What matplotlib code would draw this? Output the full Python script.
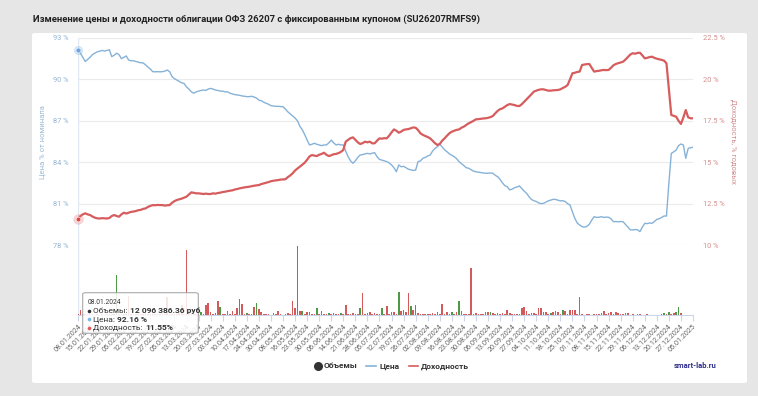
"""
plot.py

Redraws the smart-lab chart of OFZ 26207 price / yield with daily volumes.
"""

import matplotlib
matplotlib.use("Agg")
import matplotlib.pyplot as plt
from matplotlib.patches import FancyBboxPatch
from matplotlib.lines import Line2D

plt.rcParams["font.family"] = ["Roboto", "DejaVu Sans"]

# ─── Data ──────────────────────────────────────────────────────────────────────
TITLE = "Изменение цены и доходности облигации ОФЗ 26207 с фиксированным купоном (SU26207RMFS9)"

tick_labels = [
    "08.01.2024", "15.01.2024", "22.01.2024", "29.01.2024", "05.02.2024", "12.02.2024",
    "19.02.2024", "27.02.2024", "05.03.2024", "13.03.2024", "20.03.2024", "27.03.2024",
    "03.04.2024", "10.04.2024", "17.04.2024", "24.04.2024", "30.04.2024", "08.05.2024",
    "16.05.2024", "23.05.2024", "30.05.2024", "06.06.2024", "14.06.2024", "21.06.2024",
    "28.06.2024", "05.07.2024", "12.07.2024", "19.07.2024", "26.07.2024", "02.08.2024",
    "09.08.2024", "16.08.2024", "23.08.2024", "30.08.2024", "06.09.2024", "13.09.2024",
    "20.09.2024", "27.09.2024", "04.10.2024", "11.10.2024", "18.10.2024", "25.10.2024",
    "01.11.2024", "08.11.2024", "15.11.2024", "22.11.2024", "29.11.2024", "06.12.2024",
    "13.12.2024", "20.12.2024", "27.12.2024", "05.01.2025",
]

# price, % of nominal, one value per trading day
price = [
    92.16, 91.90, 91.60, 91.30, 91.45, 91.60, 91.80, 91.90, 92.00, 92.05,
    92.10, 92.05, 92.10, 92.15, 91.65, 91.75, 91.90, 91.80, 91.50, 91.60,
    91.70, 91.40, 91.35, 91.35, 91.30, 91.25, 91.20, 91.20, 91.05, 90.90,
    90.75, 90.56, 90.55, 90.56, 90.55, 90.56, 90.60, 90.68, 90.56, 90.20,
    90.05, 89.95, 89.85, 89.75, 89.70, 89.45, 89.30, 89.10, 89.00, 89.10,
    89.15, 89.20, 89.23, 89.20, 89.30, 89.35, 89.30, 89.23, 89.20, 89.15,
    89.15, 89.10, 89.10, 89.00, 88.95, 88.90, 88.87, 88.85, 88.80, 88.78,
    88.75, 88.75, 88.78, 88.72, 88.65, 88.50, 88.45, 88.35, 88.27, 88.20,
    88.10, 88.07, 88.05, 88.05, 88.03, 88.02, 87.85, 87.65, 87.50, 87.35,
    87.20, 87.00, 86.60, 86.35, 86.00, 85.60, 85.25, 85.30, 85.37, 85.30,
    85.25, 85.20, 85.25, 85.25, 85.40, 85.60, 85.40, 85.25, 85.30, 85.25,
    85.25, 84.80, 84.40, 84.10, 83.92, 84.10, 84.35, 84.52, 84.55, 84.60,
    84.64, 84.60, 84.65, 84.69, 84.40, 84.20, 84.15, 84.10, 84.04, 83.95,
    83.80, 83.60, 83.31, 83.80, 83.67, 83.70, 83.60, 83.49, 83.45, 83.40,
    83.43, 84.04, 84.10, 84.28, 84.35, 84.45, 84.52, 84.80, 85.00, 85.12,
    85.32, 85.10, 84.90, 84.76, 84.60, 84.50, 84.40, 84.25, 84.04, 83.90,
    83.75, 83.60, 83.56, 83.45, 83.35, 83.31, 83.28, 83.25, 83.22, 83.20,
    83.20, 83.22, 83.20, 83.05, 82.95, 82.75, 82.50, 82.30, 82.22, 81.99,
    82.05, 82.15, 82.20, 82.28, 82.10, 81.90, 81.75, 81.50, 81.30, 81.21,
    81.15, 81.05, 81.00, 81.02, 81.10, 81.20, 81.25, 81.31, 81.30, 81.25,
    81.20, 81.21, 81.15, 81.00, 80.90, 80.40, 79.93, 79.60, 79.45, 79.33,
    79.30, 79.35, 79.50, 79.80, 80.05, 80.00, 80.01, 80.05, 80.00, 80.02,
    80.01, 79.90, 79.69, 79.70, 79.68, 79.70, 79.69, 79.50, 79.30, 79.10,
    79.09, 79.12, 79.10, 78.97, 79.30, 79.57, 79.55, 79.60, 79.57, 79.70,
    79.86, 79.90, 80.00, 80.10, 80.10, 82.50, 84.64, 84.75, 84.88, 85.20,
    85.32, 85.25, 84.28, 85.00, 85.05, 85.08,
]

# yield, % per annum
yld = [
    11.55, 11.75, 11.85, 11.91, 11.85, 11.81, 11.72, 11.65, 11.61, 11.60,
    11.62, 11.61, 11.60, 11.63, 11.75, 11.81, 11.75, 11.71, 11.85, 11.95,
    11.90, 11.95, 12.00, 12.02, 12.05, 12.10, 12.12, 12.18, 12.21, 12.30,
    12.36, 12.41, 12.40, 12.42, 12.41, 12.41, 12.38, 12.40, 12.41, 12.55,
    12.65, 12.72, 12.76, 12.80, 12.86, 12.92, 13.05, 13.18, 13.15, 13.12,
    13.12, 13.10, 13.08, 13.10, 13.08, 13.08, 13.12, 13.10, 13.14, 13.16,
    13.20, 13.22, 13.25, 13.28, 13.30, 13.35, 13.38, 13.42, 13.45, 13.48,
    13.50, 13.52, 13.55, 13.58, 13.60, 13.62, 13.68, 13.72, 13.76, 13.80,
    13.85, 13.88, 13.90, 13.92, 13.95, 13.96, 13.97, 14.10, 14.20, 14.33,
    14.50, 14.62, 14.73, 14.85, 14.97, 15.15, 15.35, 15.43, 15.40, 15.37,
    15.45, 15.50, 15.57, 15.45, 15.37, 15.42, 15.48, 15.50, 15.55, 15.62,
    15.74, 16.24, 16.35, 16.45, 16.50, 16.35, 16.20, 16.10, 16.15, 16.24,
    16.20, 16.24, 16.14, 16.14, 16.30, 16.44, 16.42, 16.45, 16.44, 16.60,
    16.80, 16.98, 16.90, 16.78, 16.85, 16.95, 16.98, 17.00, 17.05, 17.10,
    17.08, 16.94, 16.74, 16.65, 16.58, 16.52, 16.44, 16.30, 16.15, 16.04,
    16.10, 16.30, 16.44, 16.60, 16.75, 16.84, 16.90, 16.95, 16.98, 17.08,
    17.15, 17.25, 17.35, 17.42, 17.50, 17.59, 17.60, 17.62, 17.64, 17.65,
    17.68, 17.72, 17.79, 17.95, 18.10, 18.20, 18.25, 18.35, 18.45, 18.51,
    18.48, 18.45, 18.40, 18.39, 18.50, 18.65, 18.80, 18.95, 19.10, 19.26,
    19.32, 19.37, 19.40, 19.40, 19.36, 19.32, 19.32, 19.34, 19.35, 19.36,
    19.40, 19.48, 19.55, 19.66, 20.00, 20.37, 20.40, 20.45, 20.47, 20.87,
    20.90, 20.92, 20.93, 20.70, 20.47, 20.50, 20.52, 20.55, 20.57, 20.56,
    20.57, 20.70, 20.85, 20.93, 20.98, 21.02, 21.07, 21.20, 21.35, 21.50,
    21.58, 21.55, 21.60, 21.61, 21.45, 21.27, 21.30, 21.35, 21.37, 21.30,
    21.25, 21.21, 21.18, 21.13, 20.97, 19.40, 17.85, 17.80, 17.75, 17.50,
    17.31, 17.70, 18.15, 17.71, 17.65, 17.65,
]

# daily turnover, mln rub
volumes = [
    12, 50, 8, 6, 10, 5, 8, 4, 6, 5,
    7, 5, 9, 6, 8, 6, 400, 10, 8, 6,
    12, 190, 10, 8, 14, 9, 12, 10, 16, 12,
    10, 14, 12, 9, 15, 10, 12, 180, 14, 10,
    8, 12, 20, 100, 15, 650, 30, 12, 10, 8,
    6, 30, 10, 100, 120, 30, 8, 20, 140, 80,
    6, 10, 40, 8, 40, 10, 70, 160, 110, 10,
    20, 6, 10, 80, 120, 60, 30, 8, 6, 10,
    5, 20, 8, 40, 6, 5, 8, 20, 10, 140,
    70, 690, 40, 40, 10, 30, 30, 8, 10, 70,
    10, 40, 8, 6, 20, 8, 20, 6, 10, 20,
    8, 100, 8, 6, 20, 6, 8, 70, 220, 10,
    20, 30, 6, 20, 6, 8, 70, 10, 90, 8,
    30, 30, 6, 230, 40, 50, 30, 220, 95, 50,
    100, 20, 8, 10, 6, 10, 8, 20, 8, 30,
    6, 110, 8, 30, 6, 30, 8, 30, 140, 40,
    8, 6, 10, 470, 8, 20, 6, 8, 6, 30,
    30, 30, 20, 6, 20, 8, 20, 6, 50, 20,
    6, 8, 6, 10, 70, 85, 40, 8, 20, 20,
    8, 70, 70, 30, 30, 8, 20, 30, 40, 30,
    8, 50, 40, 8, 50, 55, 50, 8, 185, 8,
    5, 6, 10, 5, 10, 6, 15, 20, 40, 6,
    20, 30, 8, 30, 20, 6, 8, 20, 20, 5,
    6, 4, 10, 10, 5, 4, 6, 4, 5, 4,
    4, 5, 6, 20, 8, 30, 6, 20, 30, 80,
    20, 0, 0, 0, 0, 0,
]

green_days = [16, 51, 57, 59, 67, 70, 74, 91, 93, 99, 104, 106, 109, 117, 126,
              133, 135, 138, 140, 149, 155, 158, 171, 196, 201, 243, 245, 248, 249]

price_ticks = [78, 81, 84, 87, 90, 93]
yield_ticks = [10, 12.5, 15, 17.5, 20, 22.5]
yield_tick_labels = ["10 %", "12.5 %", "15 %", "17.5 %", "20 %", "22.5 %"]

hover_date = "08.01.2024"
hover_vol = "12 096 386.36 руб"
hover_price = "92.16 %"
hover_yield = "11.55%"

# ─── Style ─────────────────────────────────────────────────────────────────────
W, H = 758, 396
BG = "#e6e6e6"
PRICE_C = "#86b2d8"
YIELD_C = "#d65c5e"
RED_BAR = "#d35a5a"
GREEN_BAR = "#4c9a45"
GRID_C = "#ebebeb"
AXIS_C = "#ccd6eb"


def box(x0, y0, x1, y1):
    # pixel box (top-left origin) -> figure fraction rect
    return [x0 / W, 1 - y1 / H, (x1 - x0) / W, (y1 - y0) / H]


def fx(x):
    return x / W


def fy(y):
    return 1 - y / H


fig = plt.figure(figsize=(W / 100, H / 100), dpi=100, facecolor=BG)

panel = FancyBboxPatch((fx(32), fy(383)), (747 - 32) / W, (383 - 33) / H,
                       boxstyle="round,pad=0,rounding_size=0.004",
                       transform=fig.transFigure, facecolor="white",
                       edgecolor="none", zorder=-1)
fig.add_artist(panel)

fig.text(fx(33), fy(19), TITLE, fontsize=6.8, fontweight="bold",
         color="#222222", ha="left", va="center")

n = len(price)
x = list(range(n))

# ─── Price / yield pane ────────────────────────────────────────────────────────
ax_p = fig.add_axes(box(78, 38, 693, 245))
ax_p.set_facecolor("none")
ax_p.set_xlim(0, n - 1)
ax_p.set_ylim(78, 93)
for s in ax_p.spines.values():
    s.set_visible(False)
ax_p.set_xticks([])
ax_p.set_yticks(price_ticks)
ax_p.set_yticklabels([f"{t} %" for t in price_ticks])
ax_p.tick_params(axis="y", length=0, pad=7, labelsize=5.3, labelcolor="#93b3d3")
ax_p.yaxis.grid(True, color=GRID_C, lw=0.8)
ax_p.set_axisbelow(True)
ax_p.axvline(0, color="#dfe8f3", lw=1.0, zorder=1)
ax_p.plot(x, price, color=PRICE_C, lw=1.0, zorder=3)

ax_y = ax_p.twinx()
ax_y.set_facecolor("none")
ax_y.set_ylim(10, 22.5)
for s in ax_y.spines.values():
    s.set_visible(False)
ax_y.set_yticks(yield_ticks)
ax_y.set_yticklabels(yield_tick_labels)
ax_y.tick_params(axis="y", length=0, pad=7, labelsize=5.3, labelcolor="#d48d8d")
ax_y.plot(x, yld, color=YIELD_C, lw=1.6, zorder=3)

# hover markers on the first point
ax_p.plot(0, price[0], "o", ms=6.5, color="#6ea7df", alpha=0.3, mec="none", clip_on=False, zorder=4)
ax_p.plot(0, price[0], "o", ms=3.6, color="#6ea7df", mec="white", mew=0.4, clip_on=False, zorder=5)
ax_y.plot(0, yld[0], "o", ms=7.5, color="#e57373", alpha=0.3, mec="none", clip_on=False, zorder=4)
ax_y.plot(0, yld[0], "o", ms=3.4, color="#e04848", mec="white", mew=0.4, clip_on=False, zorder=5)

fig.text(fx(43), fy(142), "Цена % от номинала", rotation=90, fontsize=5.5,
         color="#9cb9d6", ha="center", va="center")
fig.text(fx(733), fy(141), "Доходность, % годовых", rotation=270, fontsize=5.5,
         color="#d08c8c", ha="center", va="center")

# ─── Volume pane ───────────────────────────────────────────────────────────────
ax_v = fig.add_axes(box(78, 245, 693, 315))
ax_v.set_facecolor("none")
ax_v.set_xlim(0, n - 1)
ax_v.set_ylim(0, 700)
bar_colors = [GREEN_BAR if i in green_days else RED_BAR for i in x]
ax_v.bar(x, volumes, width=0.7, color=bar_colors, linewidth=0, zorder=2)
ax_v.axvline(0, color="#dfe8f3", lw=1.0, zorder=1)
for side in ("top", "right", "left"):
    ax_v.spines[side].set_visible(False)
ax_v.spines["bottom"].set_color(AXIS_C)
ax_v.spines["bottom"].set_linewidth(0.8)
ax_v.set_yticks([])
ax_v.set_xticks(list(range(0, n, 5)))
ax_v.set_xticklabels(tick_labels, rotation=45, ha="right", va="top",
                     rotation_mode="anchor")
ax_v.tick_params(axis="x", length=4, width=0.8, color=AXIS_C, pad=2,
                 labelsize=5.2, labelcolor="#666666")

# ─── Tooltip ───────────────────────────────────────────────────────────────────
tip = FancyBboxPatch((fx(82.7), fy(333.3)), (198.3 - 82.7) / W, (333.3 - 292.7) / H,
                     boxstyle="round,pad=0,rounding_size=0.004",
                     transform=fig.transFigure, facecolor="white", alpha=0.85,
                     edgecolor="#9a9a9a", lw=0.8, zorder=10)
fig.add_artist(tip)

fig.text(fx(87.3), fy(302.3), hover_date, fontsize=4.8, color="#333333",
         ha="left", va="center", zorder=11)

renderer = fig.canvas.get_renderer()
rows = [("#333333", "Объемы: ", hover_vol, 310.7),
        ("#7cb5ec", "Цена: ", hover_price, 319.3),
        ("#e05a5a", "Доходность: ", hover_yield, 327.7)]
for dot_c, name, val, yy in rows:
    fig.add_artist(Line2D([fx(89.3)], [fy(yy)], marker="o", ms=2.6, color=dot_c,
                          mec="none", transform=fig.transFigure, zorder=11))
    t = fig.text(fx(93.3), fy(yy), name, fontsize=6, color="#333333",
                 ha="left", va="center", zorder=11)
    x_end = t.get_window_extent(renderer).x1
    fig.text(x_end / W, fy(yy), val, fontsize=6, fontweight="bold",
             color="#333333", ha="left", va="center", zorder=11)

# ─── Legend & credit ───────────────────────────────────────────────────────────
ly = fy(366)
fig.add_artist(Line2D([fx(318)], [ly], marker="o", ms=5.5, color="#333333",
                      transform=fig.transFigure))
fig.text(fx(324), ly, "Объемы", fontsize=6, fontweight="bold", color="#333333",
         ha="left", va="center")
fig.add_artist(Line2D([fx(366), fx(376)], [ly, ly], color=PRICE_C, lw=1.2,
                      transform=fig.transFigure))
fig.text(fx(379), ly, "Цена", fontsize=6, fontweight="bold", color="#333333",
         ha="left", va="center")
fig.add_artist(Line2D([fx(409), fx(418)], [ly, ly], color=YIELD_C, lw=1.2,
                      transform=fig.transFigure))
fig.text(fx(421), ly, "Доходность", fontsize=6, fontweight="bold", color="#333333",
         ha="left", va="center")

fig.text(fx(717), ly, "smart-lab.ru", fontsize=5.5, fontweight="bold",
         color="#2e2e8a", ha="right", va="center")

fig.savefig("out.png", dpi=100, facecolor=BG)
